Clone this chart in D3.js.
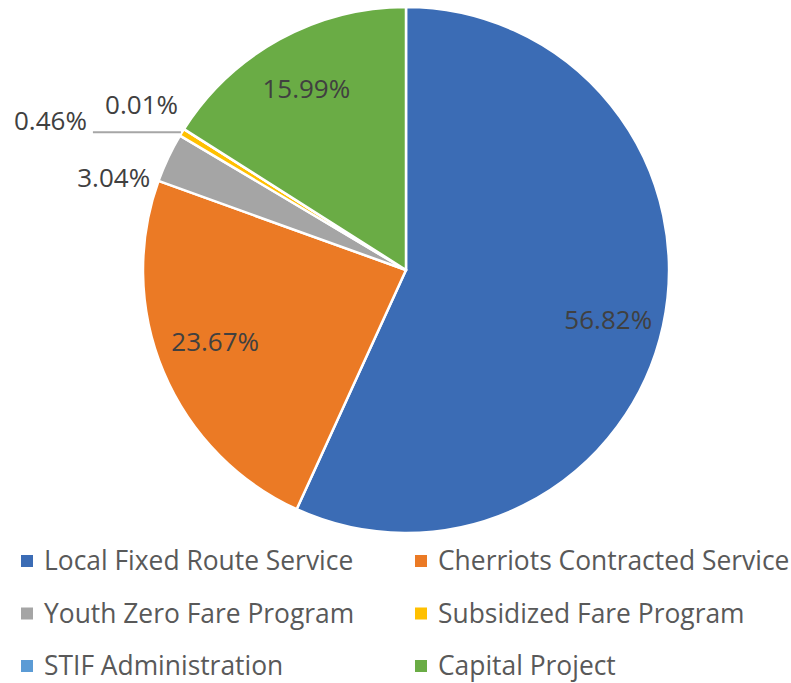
<!DOCTYPE html>
<html>
<head>
<meta charset="utf-8">
<script src="https://cdn.jsdelivr.net/npm/d3@7"></script>
<style>
  body { margin: 0; background: #fff; }
  text { font-family: "Open Sans", sans-serif; }
</style>
</head>
<body>
<div id="chart"></div>
<script>
// Chart data
var categories = ["Local Fixed Route Service", "Cherriots Contracted Service", "Youth Zero Fare Program",
  "Subsidized Fare Program", "STIF Administration", "Capital Project"];
var shares = [56.82, 23.67, 3.04, 0.46, 0.01, 15.99];
var colors = ["#3b6cb5", "#eb7a25", "#a5a5a5", "#ffc000", "#5b9bd5", "#6aac45"];

var svgWidth = 791;
var svgHeight = 683;
var cx = 406, cy = 270, radius = 263;

var svg = d3.select("#chart")
  .append("svg")
  .attr("width", svgWidth)
  .attr("height", svgHeight);

var pieGroup = svg.append("g")
  .attr("transform", `translate(${cx}, ${cy})`);

var pie = d3.pie().sort(null).value(d => d.value);
var data = categories.map((c, i) => ({ name: c, value: shares[i], color: colors[i] }));
var arcs = pie(data);

var arc = d3.arc().innerRadius(0).outerRadius(radius);
var labelArc = d3.arc().innerRadius(207).outerRadius(207);
var edgeArc = d3.arc().innerRadius(radius).outerRadius(radius);

// Slices
pieGroup.selectAll("path")
  .data(arcs)
  .enter()
  .append("path")
  .attr("d", arc)
  .attr("fill", d => d.data.color)
  .attr("stroke", "#fff")
  .attr("stroke-width", 2.5)
  .attr("stroke-linejoin", "round");

// Labels inside the big slices (Excel's best fit sits a little lower than the centroid)
pieGroup.selectAll("text.inside")
  .data(arcs.filter(d => d.data.value >= 5))
  .enter()
  .append("text")
  .attr("class", "inside")
  .attr("transform", d => {
    var c = labelArc.centroid(d);
    var shift = d.data.name === "Cherriots Contracted Service" ? -9 : (d.data.name === "Local Fixed Route Service" ? 6 : 0);
    return `translate(${c[0]}, ${c[1] + shift})`;
  })
  .attr("text-anchor", "middle")
  .attr("dy", "0.36em")
  .attr("font-size", 26)
  .attr("fill", "#404040")
  .text(d => d.data.value.toFixed(2) + "%");

// Outside labels for the thin slices: nudge from the slice edge point
var outsideNudge = {
  "Youth Zero Fare Program": { dx: -18, dy: 29, line: false },
  "Subsidized Fare Program": { dx: -95, dy: -2, line: true },
  "STIF Administration": { dx: -6, dy: -15, line: false }
};

arcs.filter(d => d.data.value < 5).forEach(function(d) {
  var p = edgeArc.centroid(d);
  var n = outsideNudge[d.data.name];
  if (n.line) {
    pieGroup.append("line")
      .attr("x1", p[0] - 1)
      .attr("y1", p[1])
      .attr("x2", p[0] - 89)
      .attr("y2", p[1])
      .attr("stroke", "#a6a6a6")
      .attr("stroke-width", 2);
  }
  pieGroup.append("text")
    .attr("x", p[0] + n.dx)
    .attr("y", p[1] + n.dy)
    .attr("text-anchor", "end")
    .attr("font-size", 26)
    .attr("fill", "#404040")
    .text(d.data.value.toFixed(2) + "%");
});

// Legend
var legendGroup = svg.append("g");
var legendItem = legendGroup.selectAll("g")
  .data(data)
  .enter()
  .append("g")
  .attr("transform", (d, i) => `translate(${i % 2 === 0 ? 21 : 415}, ${570 + Math.floor(i / 2) * 52.5})`);

legendItem.append("rect")
  .attr("x", 0)
  .attr("y", -15)
  .attr("width", 12)
  .attr("height", 12)
  .attr("fill", d => d.color);

legendItem.append("text")
  .attr("x", 23)
  .attr("y", 0)
  .attr("font-size", 26.4)
  .attr("fill", "#595959")
  .text(d => d.name);
</script>
</body>
</html>
